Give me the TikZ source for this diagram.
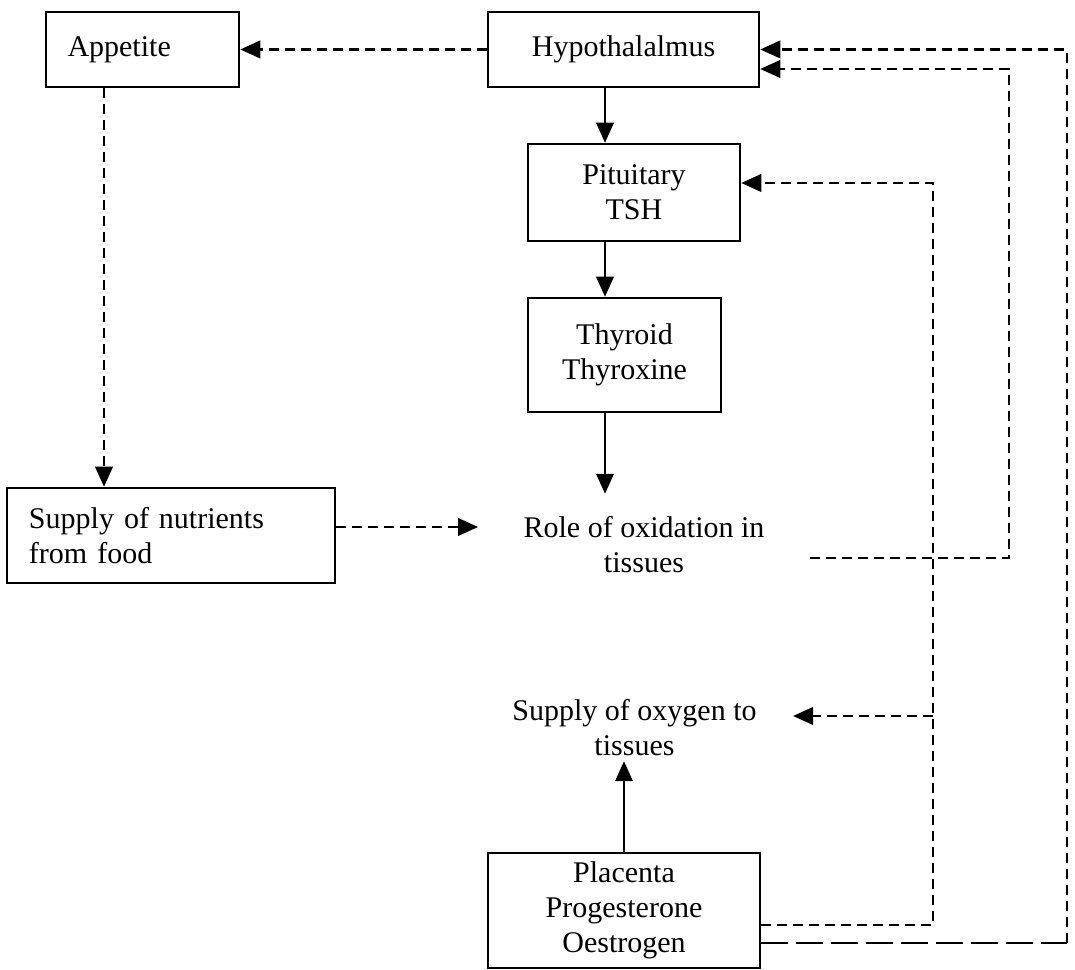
\documentclass[tikz,border=0pt]{standalone}
\usepackage{fontspec}
\setmainfont{Liberation Serif}
\usetikzlibrary{arrows.meta}

\begin{document}
\begin{tikzpicture}[x=0.4pt, y=-0.4pt,
  font=\fontsize{12}{14}\selectfont,
  organ/.style ={draw, line width=1pt, inner sep=0pt, align=center},
  plain/.style ={inner sep=0pt, align=center},
  hormone/.style ={line width=0.8pt, -{Triangle[length=8pt,width=7pt]}},
  feedback/.style ={line width=0.9pt, dash pattern=on 4pt off 2.4pt},
  longfeedback/.style ={line width=0.9pt, dash pattern=on 10.5pt off 3.5pt},
  tip/.style ={-{Triangle[length=8pt,width=7pt]}}]
 \useasboundingbox (0,0) rectangle (1075,970);
 \node[organ] (app) [text width=60pt, inner xsep=8.6pt, minimum height=30pt, align=left] at (142.5,49.5) {Appetite};
 \node[organ] (hyp) [minimum width=108.4pt, minimum height=30pt] at (623.5,49.5) {Hypothalalmus};
 \node[organ] (pit) [minimum width=84.8pt, minimum height=38.8pt] at (634,192.5) {Pituitary\\TSH};
 \node[organ] (thy) [minimum width=77.2pt, minimum height=45.6pt] at (624.5,355) {Thyroid\\Thyroxine};
 \node[organ] (nut) [text width=113.6pt, inner xsep=8.8pt, minimum height=38pt, align=left] at (171,535.5) {Supply of nutrients\\from food};
 \node[plain] (role) [inner xsep=18pt, inner ysep=9pt] at (644,545) {Role of oxidation in\\tissues};
 \node[plain] (ox) [inner xsep=14.4pt, inner ysep=2pt] at (634.5,727.5) {Supply of oxygen to\\tissues};
 \node[organ] (pla) [minimum width=108.8pt, minimum height=46pt] at (624,910.5) {Placenta\\Progesterone\\Oestrogen};
 \coordinate (ax) at (605,0);
 \coordinate (lx) at (104,0);
 \coordinate (r1) at (933,0);
 \coordinate (r2) at (1009,0);
 \coordinate (r3) at (1067,0);
 \coordinate (h1) at (hyp.east);
 \coordinate (h2) at ([yshift=-7.8pt]hyp.east);
 \coordinate (p1) at ([yshift=3.8pt]pit.east);
 \coordinate (o1) at ([yshift=4.6pt]ox.east);
 \coordinate (n1) at ([yshift=3.4pt]nut.east);
 \coordinate (e1) at ([yshift=-5.2pt]role.east);
 \coordinate (q1) at ([yshift=-5.8pt]pla.east);
 \coordinate (q2) at ([yshift=-13pt]pla.east);
 \draw[hormone] (hyp.south -| ax) to (pit.north -| ax);
 \draw[hormone] (pit.south -| ax) to (thy.north -| ax);
 \draw[hormone] (thy.south -| ax) to (role.north -| ax);
 \draw[hormone] (pla.north) to (pla.north |- ox.south);
 \draw[feedback, tip] (hyp.west) to (app.east);
 \draw[feedback, tip] (app.south -| lx) to (nut.north -| lx);
 \draw[feedback, tip] (n1) to (n1 -| role.west);
 \draw[feedback, tip] (e1) -| (r2 |- h2) -- (h2);
 \draw[feedback, tip] (q1) -| (r1 |- p1) -- (p1);
 \draw[feedback, tip] (r1 |- o1) to (o1);
 \draw[longfeedback] (q2) to (r3 |- q2);
 \draw[feedback, tip] (r3 |- q2) |- (h1);
\end{tikzpicture}
\end{document}
